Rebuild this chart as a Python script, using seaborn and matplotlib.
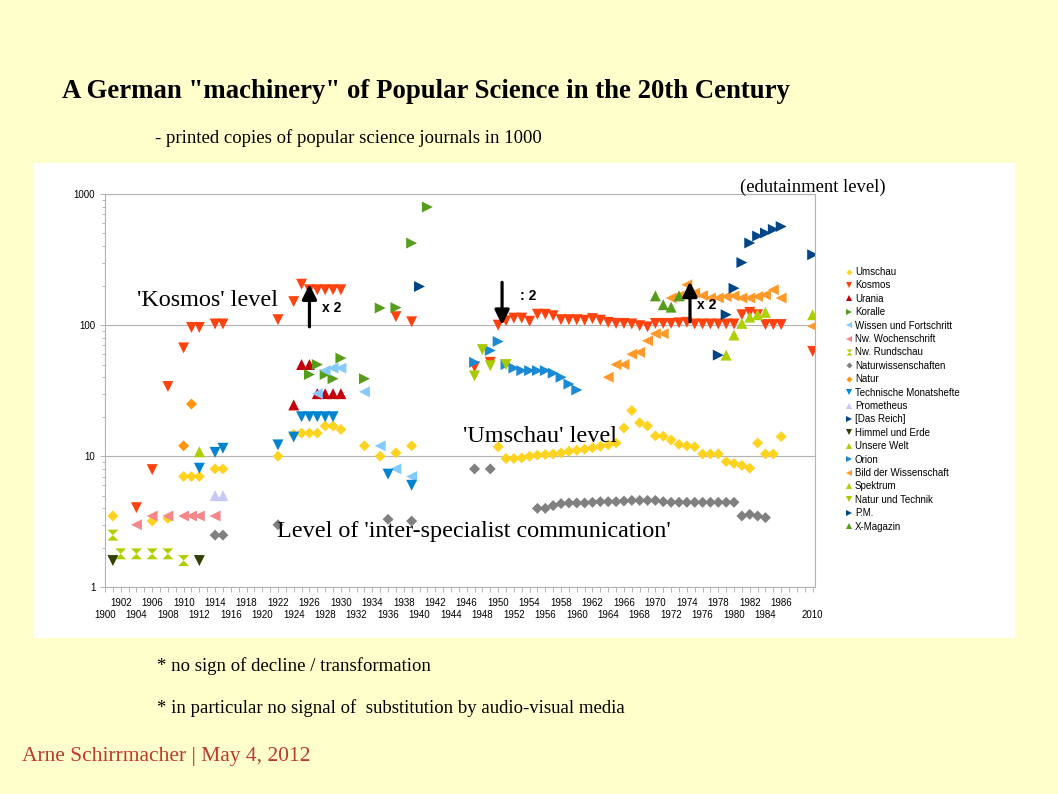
import matplotlib
matplotlib.use("Agg")
import numpy as np
import pandas as pd
import matplotlib.pyplot as plt
from matplotlib.path import Path
from matplotlib.patches import Rectangle
from matplotlib.ticker import FuncFormatter, FixedLocator, LogLocator, NullFormatter
import seaborn as sns

# printed copies (in 1000), per journal
umschau_years = [1901, 1906, 1908, 1910, 1911, 1912, 1914, 1915, 1922, 1924, 1925, 1926, 1927,
                 1928, 1929, 1930, 1933, 1935, 1937, 1939] + list(range(1950, 1987))
umschau_vals = [3.5, 3.2, 3.35, 7, 7, 7, 8, 8, 10, 14.7, 15, 15, 15, 17, 17, 16, 12, 10, 10.6, 12,
                11.8, 9.6, 9.6, 9.7, 10.0, 10.2, 10.3, 10.4, 10.6, 10.9, 11.1, 11.3, 11.6, 11.9, 12.2,
                12.6, 16.4, 22.3, 18, 17, 14.3, 14.2, 13.3, 12.3, 12, 11.8, 10.4, 10.4, 10.4, 9.1,
                8.8, 8.5, 8.1, 12.6, 10.4, 10.4, 14.1]

kosmos_years = [1904, 1906, 1908, 1910, 1911, 1912, 1914, 1915, 1922, 1924, 1925, 1926, 1927,
                1928, 1929, 1930, 1937, 1939, 1947, 1949] + list(range(1950, 1987)) + [2010]
kosmos_vals = [4.05, 7.9, 34, 67, 96, 96, 102, 102, 110, 151, 205, 186, 186, 186, 186, 186, 116,
               106, 48, 52,
               100, 108, 113, 113, 107, 121, 121, 118, 110, 110, 110, 109, 112, 109, 105, 103, 103,
               102, 99, 97, 103, 103, 103, 104, 105, 102, 102, 102, 102, 102, 102, 120, 125, 120,
               101, 101, 101, 63]

urania_years = [1924, 1925, 1926, 1927, 1928, 1929, 1930]
urania_vals = [24.6, 50, 50, 30, 30, 30, 30]

koralle_years = [1926, 1927, 1928, 1929, 1930, 1933, 1935, 1937, 1939, 1941]
koralle_vals = [42, 50, 42, 39, 56, 39, 135, 136, 422, 796]

wissen_years = [1927, 1928, 1929, 1930, 1933, 1935, 1937, 1939]
wissen_vals = [30, 45, 47, 47, 31, 12, 8, 7]

wochenschrift_years = [1904, 1906, 1908, 1910, 1911, 1912, 1914]
wochenschrift_vals = [3.0, 3.5, 3.5, 3.5, 3.5, 3.5, 3.5]

rundschau_years = [1901, 1902, 1904, 1906, 1908, 1910]
rundschau_vals = [2.5, 1.8, 1.8, 1.8, 1.8, 1.6]

naturwiss_years = [1914, 1915, 1922, 1936, 1939, 1947, 1949] + list(range(1955, 1985))
naturwiss_vals = [2.5, 2.5, 3.0, 3.3, 3.2, 8, 8,
                  4.0, 4.0, 4.2, 4.35, 4.4, 4.4, 4.4, 4.45, 4.5, 4.5, 4.5, 4.55, 4.6, 4.6, 4.6,
                  4.6, 4.5, 4.45, 4.45, 4.45, 4.45, 4.45, 4.45, 4.45, 4.45, 4.45, 3.5, 3.6, 3.5, 3.4]

natur_years = [1910, 1911]
natur_vals = [12, 25]

technische_years = [1912, 1914, 1915, 1922, 1924, 1925, 1926, 1927, 1928, 1929, 1936, 1939]
technische_vals = [8.1, 10.7, 11.5, 12.2, 14, 20, 20, 20, 20, 20, 7.3, 6.0]

prometheus_years = [1914, 1915]
prometheus_vals = [5, 5]

reich_years = [1940]
reich_vals = [197]

himmel_years = [1901, 1912]
himmel_vals = [1.6, 1.6]

unsere_years = [1912]
unsere_vals = [10.8]

orion_years = [1947, 1949, 1950, 1951, 1952, 1953, 1954, 1955, 1956, 1957, 1958, 1959, 1960]
orion_vals = [52, 64, 75, 50, 47, 45, 45, 45, 45, 43, 40, 35.5, 32]

bild_years = list(range(1964, 1987)) + [2010]
bild_vals = [40, 50, 50, 60, 62, 76, 86, 86, 161, 167, 203, 176, 168, 161, 161, 165, 167, 161,
             161, 165, 170, 186, 161, 98]

spektrum_years = [1979, 1980, 1981, 1982, 1983, 1984, 2010]
spektrum_vals = [59, 84, 103, 115, 120, 125, 120]

nut_years = [1947, 1948, 1949, 1951]
nut_vals = [41, 65, 49, 50]

pm_years = [1978, 1979, 1980, 1981, 1982, 1983, 1984, 1985, 1986, 2010]
pm_vals = [59, 120, 191, 300, 423, 478, 504, 537, 565, 344]

xmag_years = [1970, 1971, 1972, 1973]
xmag_vals = [167, 143, 137, 167]

journals = ["Umschau", "Kosmos", "Urania", "Koralle", "Wissen und Fortschritt",
            "Nw. Wochenschrift", "Nw. Rundschau", "Naturwissenschaften", "Natur",
            "Technische Monatshefte", "Prometheus", "[Das Reich]", "Himmel und Erde",
            "Unsere Welt", "Orion", "Bild der Wissenschaft", "Spektrum", "Natur und Technik",
            "P.M.", "X-Magazin"]
all_years = [umschau_years, kosmos_years, urania_years, koralle_years, wissen_years,
             wochenschrift_years, rundschau_years, naturwiss_years, natur_years,
             technische_years, prometheus_years, reich_years, himmel_years, unsere_years,
             orion_years, bild_years, spektrum_years, nut_years, pm_years, xmag_years]
all_vals = [umschau_vals, kosmos_vals, urania_vals, koralle_vals, wissen_vals,
            wochenschrift_vals, rundschau_vals, naturwiss_vals, natur_vals, technische_vals,
            prometheus_vals, reich_vals, himmel_vals, unsere_vals, orion_vals, bild_vals,
            spektrum_vals, nut_vals, pm_vals, xmag_vals]

colors = ["#ffd320", "#ff420e", "#c5000b", "#579d1c", "#83caff", "#f4878a", "#aecf00",
          "#808080", "#ff950e", "#0084d1", "#c8c8f4", "#004586", "#314004", "#aecf00",
          "#1a8ad4", "#ff9a2a", "#aecf00", "#a8c800", "#004586", "#579d1c"]

hourglass = Path([(-1, 1), (1, 1), (0, 0), (1, -1), (-1, -1), (0, 0), (-1, 1)])
diamond = Path([(0, 1), (1, 0), (0, -1), (-1, 0), (0, 1)])
shapes = [diamond, "v", "^", ">", "<", "<", hourglass, diamond, diamond, "v", "^", ">", "v",
          "^", ">", "<", "^", "v", ">", "^"]

# categories 1900..1989 on the axis, then 2010 as the last category
def cat_pos(year):
    return year - 1900 if year < 2000 else 90

rows = []
for name, ys, vs in zip(journals, all_years, all_vals):
    for y, v in zip(ys, vs):
        rows.append({"journal": name, "pos": cat_pos(y), "value": v})
df = pd.DataFrame(rows)

W, H = 1058, 794
fig = plt.figure(figsize=(W / 100, H / 100), dpi=100, facecolor="#ffffcc")
plt.rcParams['font.family'] = ['Liberation Sans', 'DejaVu Sans']

fig.patches.append(Rectangle((33 / W, 1 - 638 / H), 982 / W, 475 / H, transform=fig.transFigure,
                             facecolor="white", edgecolor="none", zorder=-5))

ax = fig.add_axes([105 / W, 1 - 587.3 / H, 710 / W, 393.3 / H])
ax.set_facecolor("white")

sns.scatterplot(data=df, x="pos", y="value", hue="journal", style="journal",
                palette=dict(zip(journals, colors)), markers=dict(zip(journals, shapes)),
                hue_order=journals, style_order=journals, s=62, linewidth=0, ax=ax, zorder=3)

ax.set_yscale("log")
ax.set_ylim(1, 1000)
ax.yaxis.set_major_locator(FixedLocator([1, 10, 100, 1000]))
ax.yaxis.set_major_formatter(FuncFormatter(lambda v, p: f"{v:.0f}"))
ax.yaxis.set_minor_locator(LogLocator(base=10, subs=np.arange(2, 10)))
ax.yaxis.set_minor_formatter(NullFormatter())


def year_of(p):
    p = int(round(p))
    return 2010 if p == 90 else 1900 + p


# lower row of year labels on the major ticks, upper row on the minor (yearly) ticks
ax.set_xlim(0, 90.3)
ax.xaxis.set_major_locator(FixedLocator(list(range(0, 85, 4)) + [90]))
ax.xaxis.set_major_formatter(FuncFormatter(lambda v, p: str(year_of(v))))
ax.xaxis.set_minor_locator(FixedLocator(list(range(0, 90))))
ax.xaxis.set_minor_formatter(FuncFormatter(
    lambda v, p: str(year_of(v)) if year_of(v) % 4 == 2 and year_of(v) <= 1986 else ""))
ax.tick_params(axis="both", which="both", labelsize=7, color="#b3b3b3", length=3.5,
               width=0.7, labelcolor="black")
ax.tick_params(axis="x", which="minor", pad=4.5)
ax.tick_params(axis="x", which="major", pad=13)
ax.tick_params(axis="y", which="minor", length=2.5)
ax.set_xlabel("")
ax.set_ylabel("")
ax.grid(axis="y", which="major", color="#b3b3b3", linewidth=0.8)
ax.grid(axis="x", which="both", visible=False)
ax.set_axisbelow(True)
for sp in ax.spines.values():
    sp.set_color("#b3b3b3")
    sp.set_linewidth(0.8)

sns.move_legend(ax, "upper left", bbox_to_anchor=(846 / W, 1 - 267 / H),
                bbox_transform=fig.transFigure, frameon=False, title=None, fontsize=7,
                markerscale=0.55, labelspacing=0.35, handlelength=0.6, handletextpad=0.3,
                borderpad=0, borderaxespad=0)

serif = "Liberation Serif"
fig.text(62 / W, 1 - 92 / H, 'A German "machinery" of Popular Science in the 20th Century',
         family=serif, fontsize=19.3, fontweight="bold", va="center")
fig.text(155 / W, 1 - 138 / H, "- printed copies of popular science journals in 1000",
         family=serif, fontsize=13.5, va="center")
fig.text(740 / W, 1 - 187 / H, "(edutainment level)", family=serif, fontsize=13.4, va="center")
fig.text(137 / W, 1 - 301 / H, "'Kosmos' level", family=serif, fontsize=17.4, va="center")
fig.text(463 / W, 1 - 437 / H, "'Umschau' level", family=serif, fontsize=17.5, va="center")
fig.text(277 / W, 1 - 531 / H, "Level of 'inter-specialist communication'", family=serif,
         fontsize=17.4, va="center")
fig.text(157 / W, 1 - 666 / H, "* no sign of decline / transformation", family=serif,
         fontsize=13.5, va="center")
fig.text(157 / W, 1 - 708 / H, "* in particular no signal of  substitution by audio-visual media",
         family=serif, fontsize=13.5, va="center")
fig.text(22 / W, 1 - 757 / H, "Arne Schirrmacher | May 4, 2012", family=serif, fontsize=15.5,
         color="#c0392b", va="center")

# factor arrows
arrow_kw = dict(arrowstyle="-|>,head_length=0.45,head_width=0.22", lw=2.3, color="black",
                mutation_scale=20, shrinkA=0, shrinkB=0)
ax.annotate("", xy=(26, 205), xytext=(26, 97), arrowprops=arrow_kw, zorder=5)
ax.annotate("", xy=(50.5, 100), xytext=(50.5, 212), arrowprops=arrow_kw, zorder=5)
ax.annotate("", xy=(74.4, 215), xytext=(74.4, 106), arrowprops=arrow_kw, zorder=5)
fig.text(322 / W, 1 - 308 / H, "x 2", fontsize=10, fontweight="bold", va="center")
fig.text(520 / W, 1 - 296 / H, ": 2", fontsize=10, fontweight="bold", va="center")
fig.text(697 / W, 1 - 305 / H, "x 2", fontsize=10, fontweight="bold", va="center")

fig.savefig("out.png", dpi=100, facecolor=fig.get_facecolor())
